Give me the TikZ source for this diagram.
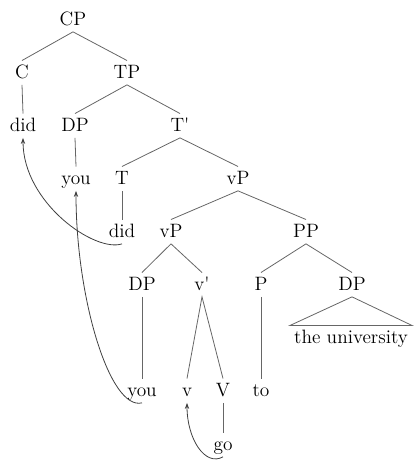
\documentclass[tikz,border=0pt]{standalone}
\usetikzlibrary{arrows.meta}
\begin{document}
\begin{tikzpicture}[x=0.75pt, y=-0.75pt,
  every node/.style={font=\fontsize{14.5}{17}\selectfont, anchor=base,
    text height=2.3ex, text depth=0.45ex, inner xsep=1pt, inner ysep=3pt},
  branch/.style={draw=black!60, line width=0.6pt},
  move/.style={draw=black!75, line width=0.6pt, -{Stealth[length=4.5pt,width=3.2pt]}}]
\useasboundingbox (0,0) rectangle (414,464);
% labels, row by row
\node (cp) at (73,25) {CP};
\node (c) at (22,78) {C};
\node (tp) at (127,78) {TP};
\node (did1) at (23,131) {did};
\node (dp1) at (75,131) {DP};
\node (tbar) at (180,131) {T\textquotesingle};
\node (you1) at (76,184) {you};
\node (t) at (122,184) {T};
\node (vp1) at (238,184) {vP};
\node (did2) at (122,237) {did};
\node (vp2) at (171,237) {vP};
\node (pp) at (306,237) {PP};
\node (dp2) at (142,290) {DP};
\node (vbar) at (202,290) {v\textquotesingle};
\node (p) at (261,290) {P};
\node (dp3) at (352,290) {DP};
\node[inner xsep=3pt] (tu) at (351,343) {the university};
\node (you2) at (142,396) {you};
\node (lv) at (187,396) {v};
\node (bv) at (223,396) {V};
\node (to) at (261,396) {to};
\node (go) at (223,450) {go};
% branches
\draw[branch] (c.north) -- (cp.south) -- (tp.north);
\draw[branch] (c.south) -- (did1.north);
\draw[branch] (dp1.north) -- (tp.south) -- (tbar.north);
\draw[branch] (dp1.south) -- (you1.north);
\draw[branch] (t.north) -- (tbar.south) -- (vp1.north);
\draw[branch] (t.south) -- (did2.north);
\draw[branch] (vp2.north) -- (vp1.south) -- (pp.north);
\draw[branch] (dp2.north) -- (vp2.south) -- (vbar.north);
\draw[branch] (p.north) -- (pp.south) -- (dp3.north);
\draw[branch] (dp2.south) -- (you2.north);
\draw[branch] (lv.north) -- (vbar.south) -- (bv.north);
\draw[branch] (p.south) -- (to.north);
\draw[branch] (bv.south) -- (go.north);
\draw[branch] (dp3.south) -- (tu.north west) -- (tu.north east) -- cycle;
% movement
\draw[move] (did2.south) .. controls +(-27,9) and +(0,65) .. (did1.south);
\draw[move] (you2.south) .. controls +(-32,8) and +(0,108) .. (you1.south);
\draw[move] (go.south) .. controls +(-18,10) and +(0,36) .. (lv.south);
\end{tikzpicture}
\end{document}
